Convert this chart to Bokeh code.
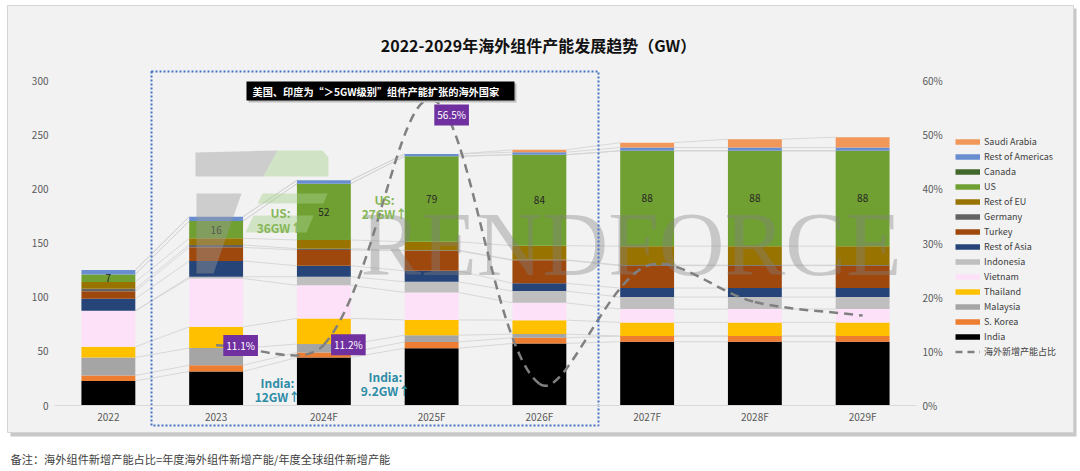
import math
from bokeh.plotting import figure
from bokeh.models import (ColumnDataSource, Range1d, LinearAxis, FixedTicker,
                          PrintfTickFormatter, Legend, LegendItem)
from bokeh.core.properties import value
from bokeh.embed import file_html
from bokeh.resources import INLINE

# ---------------- data ----------------
years = ["2022", "2023", "2024F", "2025F", "2026F", "2027F", "2028F", "2029F"]
india = [22.7, 31.4, 44.3, 52.9, 57.3, 58.9, 58.9, 58.9]
s_korea = [5.0, 5.8, 4.7, 5.8, 5.2, 5.2, 5.2, 5.2]
malaysia = [16.7, 15.8, 7.7, 6.2, 3.4, 0.0, 0.0, 0.0]
thailand = [9.8, 19.6, 23.7, 14.1, 12.9, 12.6, 12.6, 12.6]
vietnam = [33.2, 44.7, 30.5, 25.3, 16.0, 12.3, 12.3, 12.3]
indonesia = [0.0, 1.5, 8.0, 9.9, 10.8, 11.1, 11.1, 11.1]
rest_of_asia = [11.1, 14.6, 10.1, 10.1, 7.2, 8.3, 8.3, 8.3]
turkey = [6.9, 12.6, 14.5, 18.5, 21.2, 20.7, 20.7, 20.7]
germany = [2.4, 2.2, 1.2, 0.6, 0.5, 0.5, 0.5, 0.5]
rest_of_eu = [6.2, 6.1, 8.1, 7.7, 13.0, 17.5, 17.5, 17.5]
us = [7, 16, 52, 79, 84, 88, 88, 88]
canada = [0, 0, 0, 0, 0, 0, 0, 0]
rest_of_americas = [4.0, 4.0, 3.1, 2.1, 2.3, 3.0, 3.0, 3.0]
saudi_arabia = [0.0, 0.0, 0.0, 0.0, 2.2, 4.5, 7.7, 9.6]
overseas_share = [None, 11.1, 11.2, 56.5, 4.0, 25.8, 19.1, 16.6]   # %
share_labels_shown = [1, 2, 3]

series_names = ["India", "S. Korea", "Malaysia", "Thailand", "Vietnam", "Indonesia",
                "Rest of Asia", "Turkey", "Germany", "Rest of EU", "US", "Canada",
                "Rest of Americas", "Saudi Arabia"]
series_values = [india, s_korea, malaysia, thailand, vietnam, indonesia, rest_of_asia,
                 turkey, germany, rest_of_eu, us, canada, rest_of_americas, saudi_arabia]
series_colors = ["#000000", "#ed7d31", "#a5a5a5", "#ffc000", "#fde1f9", "#bfbfbf",
                 "#264478", "#9e480e", "#636363", "#997300", "#70a032", "#43682b",
                 "#698ed0", "#f1975a"]
share_name = "海外新增产能占比"

title_text = "2022-2029年海外组件产能发展趋势（GW）"
note_text = "备注：海外组件新增产能占比=年度海外组件新增产能/年度全球组件新增产能"
box_text = "美国、印度为“＞5GW级别”组件产能扩张的海外国家"

# ---------------- geometry helpers (canvas pixels -> data) ----------------
W, H = 1080, 471
PX = 107.75          # px per category
YPX = 325.0 / 300.0  # px per GW
PCT_PX = YPX * 5.0   # px per percent

def fx(px):
    return -0.5 + (px - 54) / PX

def fy(py):
    return (405 - py) / YPX

FONT = "Noto Sans CJK SC"
NAN = float("nan")

p = figure(width=W, height=H, x_range=Range1d(fx(0), fx(W)),
           y_range=Range1d(fy(H), fy(0)), output_backend="svg",
           toolbar_location=None, tools="", min_border=0,
           background_fill_color="white", border_fill_color="white",
           outline_line_color=None)
p.min_border_left = p.min_border_right = p.min_border_top = p.min_border_bottom = 0
p.extra_y_ranges = {"pct": Range1d(fy(H) / 5.0, fy(0) / 5.0)}
p.grid.visible = False

# panel background + shadow
p.quad(left=[fx(10)], right=[fx(1076)], top=[fy(8)], bottom=[fy(436)],
       fill_color="#c8c8c8", line_color=None)
p.quad(left=[fx(7)], right=[fx(1073)], top=[fy(5)], bottom=[fy(432)],
       fill_color="#f2f2f2", line_color="#d4d4d4", line_width=1)

# axes
def style_axis(ax):
    ax.major_tick_line_color = None
    ax.minor_tick_line_color = None
    ax.major_tick_out = 0
    ax.major_tick_in = 0
    ax.minor_tick_out = 0
    ax.minor_tick_in = 0
    ax.major_label_text_font_size = "10px"
    ax.major_label_text_color = "#595959"
    ax.major_label_text_font = FONT
    ax.major_label_standoff = 6

xa = p.xaxis[0]
xa.fixed_location = 0
xa.bounds = (-0.5, 7.5)
xa.ticker = FixedTicker(ticks=list(range(len(years))))
xa.major_label_overrides = {i: y for i, y in enumerate(years)}
xa.axis_line_color = "#d9d9d9"
style_axis(xa)
xa.major_label_standoff = 3

ya = p.yaxis[0]
ya.fixed_location = -0.5
ya.bounds = (0, 300)
ya.ticker = FixedTicker(ticks=[0, 50, 100, 150, 200, 250, 300])
ya.axis_line_color = None
style_axis(ya)

ra = LinearAxis(y_range_name="pct", fixed_location=7.5, bounds=(0, 60),
                ticker=FixedTicker(ticks=[0, 10, 20, 30, 40, 50, 60]),
                formatter=PrintfTickFormatter(format="%d%%"))
ra.axis_line_color = None
style_axis(ra)
p.add_layout(ra, "right")

# series connector lines
tops = []
run = [0.0] * len(years)
for vals in series_values:
    run = [a + b for a, b in zip(run, vals)]
    tops.append(run)
sx0, sy0, sx1, sy1 = [], [], [], []
for t in tops:
    for i in range(len(years) - 1):
        sx0.append(i + 0.25); sy0.append(t[i]); sx1.append(i + 0.75); sy1.append(t[i + 1])
p.segment(x0=sx0, y0=sy0, x1=sx1, y1=sy1, line_color="#d0d0d0", line_width=0.8)

# stacked bars
keys = ["s%d" % k for k in range(len(series_values))]
data = {"x": list(range(len(years)))}
for k, vals in zip(keys, series_values):
    data[k] = vals
src = ColumnDataSource(data)
p.vbar_stack(keys, x="x", width=0.5, fill_color=series_colors, line_color=None, source=src)

# US value labels
us_idx = series_names.index("US")
us_mid = [tops[us_idx - 1][i] + us[i] / 2.0 for i in range(len(years))]
p.text(x=list(range(len(years))), y=us_mid, text=[str(round(v)) for v in us],
       text_align="center", text_baseline="middle", text_font_size="10px",
       text_color="#262626", text_font=value(FONT))

# watermark logo + text
logo_gray = [[(195, 152), (277, 150), (263, 176), (195, 176)],
             [(196, 193), (241, 193), (213, 273), (196, 273)]]
logo_green = [[(277, 150), (322, 150), (328, 157), (328, 176), (263, 176)],
              [(262, 193), (327, 193), (323, 203), (257, 203)],
              [(253, 215), (313, 215), (306, 232), (245, 232)]]
p.patches(xs=[[fx(a) for a, b in poly] for poly in logo_gray],
          ys=[[fy(b) for a, b in poly] for poly in logo_gray],
          fill_color="#9a9a9a", fill_alpha=0.42, line_color=None)
p.patches(xs=[[fx(a) for a, b in poly] for poly in logo_green],
          ys=[[fy(b) for a, b in poly] for poly in logo_green],
          fill_color="#a8d08d", fill_alpha=0.45, line_color=None)
p.text(x=[fx(360)], y=[fy(244)], text=["RENDFORCE"], text_align="left",
       text_baseline="alphabetic", text_font=value("Liberation Serif"),
       text_font_size="91px", text_color="#808080", text_alpha=0.38)

# share line (smoothed bezier through the points)
pts = [(i, v) for i, v in enumerate(overseas_share) if v is not None]

def sdist(a, b):
    return math.hypot((b[0] - a[0]) * PX, (b[1] - a[1]) * PCT_PX)

bx0, by0, bx1, by1, cx0, cy0, cx1, cy1 = [], [], [], [], [], [], [], []
n = len(pts)
for j in range(n - 1):
    p0 = pts[j - 1] if j > 0 else pts[j]
    p1 = pts[j]
    p2 = pts[j + 1]
    p3 = pts[j + 2] if j + 2 < n else pts[j + 1]
    d01, d12, d23 = sdist(p0, p1), sdist(p1, p2), sdist(p2, p3)
    f1 = d12 / (d01 + d12) / 3.0
    f2 = d12 / (d12 + d23) / 3.0
    bx0.append(p1[0]); by0.append(p1[1]); bx1.append(p2[0]); by1.append(p2[1])
    cx0.append(p1[0] + (p2[0] - p0[0]) * f1); cy0.append(p1[1] + (p2[1] - p0[1]) * f1)
    cx1.append(p2[0] - (p3[0] - p1[0]) * f2); cy1.append(p2[1] - (p3[1] - p1[1]) * f2)
p.bezier(x0=bx0, y0=by0, x1=bx1, y1=by1, cx0=cx0, cy0=cy0, cx1=cx1, cy1=cy1,
         y_range_name="pct", line_color="#808080", line_width=2.5, line_dash="9 6")

# dotted highlight frame
p.quad(left=[fx(151)], right=[fx(598)], top=[fy(71)], bottom=[fy(425)],
       fill_color=None, line_color="#4472c4", line_width=2, line_dash="2 2")

# black call-out box
p.quad(left=[fx(248)], right=[fx(516)], top=[fy(83)], bottom=[fy(102)],
       fill_color="#bdbdbd", line_color=None)
p.quad(left=[fx(246)], right=[fx(514)], top=[fy(81)], bottom=[fy(100)],
       fill_color="#000000", line_color=None)
p.text(x=[fx(252)], y=[fy(90.5)], text=[box_text], text_align="left",
       text_baseline="middle", text_font_size="10.2px", text_font_style="bold",
       text_color="white", text_font=value(FONT))

# share data labels
p.text(x=share_labels_shown, y=[overseas_share[i] for i in share_labels_shown],
       text=["%.1f%%" % overseas_share[i] for i in share_labels_shown],
       x_offset=[24.5, 24.5, 20], y_offset=[0, 0, 15.5], y_range_name="pct",
       text_align="center", text_baseline="middle", text_font_size="10px",
       text_color="white", text_font=value(FONT),
       background_fill_color="#7030a0", padding=3)

# growth annotations
def note(px, py, txt, color, size="12px", style="bold", align="center"):
    p.text(x=[fx(px)], y=[fy(py)], text=[txt], text_align=align, text_baseline="middle",
           text_font_size=size, text_font_style=style, text_color=color,
           text_font=value(FONT))

US_C = "#86b657"
IN_C = "#2e8ca6"
note(280, 212, "US:", US_C)
note(279, 227, "36GW↑", US_C)
note(384, 199, "US:", US_C)
note(384, 213, "27GW↑", US_C)
note(277, 382, "India:", IN_C)
note(277, 396, "12GW↑", IN_C)
note(385, 376, "India:", IN_C)
note(385, 390, "9.2GW↑", IN_C)

# title and footnote
note(538, 44, title_text, "#111111", size="16px")
note(10, 458, note_text, "#404040", size="11.2px", style="normal", align="left")

# legend with proxy swatches
proxies = {}
for name, col in zip(series_names, series_colors):
    proxies[name] = p.line(x=[NAN], y=[NAN], line_color=col, line_width=5.5, line_cap="butt")
share_proxy = p.line(x=[NAN], y=[NAN], line_color="#808080", line_width=2.5, line_dash="7 5")
items = [LegendItem(label=name, renderers=[proxies[name]]) for name in reversed(series_names)]
items.append(LegendItem(label=share_name, renderers=[share_proxy]))
legend = Legend(items=items, location=(955, H - 358.5), padding=0, margin=0,
                glyph_width=25, glyph_height=15, label_height=15, spacing=0,
                label_standoff=4, label_text_font_size="9px",
                label_text_color="#404040", label_text_font=FONT,
                background_fill_alpha=0, border_line_color=None)
p.add_layout(legend)

open("out.html", "w").write(file_html(p, INLINE))
